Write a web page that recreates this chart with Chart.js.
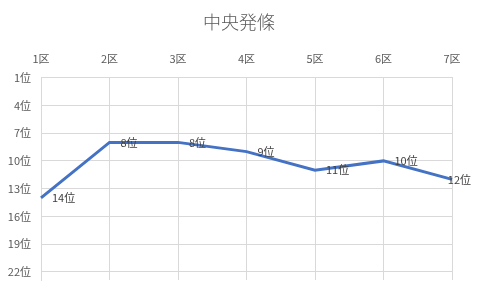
<!DOCTYPE html>
<html>
<head>
<meta charset="utf-8">
<script src="https://cdn.jsdelivr.net/npm/chart.js@4/dist/chart.umd.min.js"></script>
<style>
  html, body { margin: 0; padding: 0; background: #fff; }
  #wrap { width: 478px; height: 298px; position: relative; }
</style>
</head>
<body>
<div id="wrap"><canvas id="c"></canvas></div>
<script>
// chart data
const titleText = "中央発條";
const sections = ["1区", "2区", "3区", "4区", "5区", "6区", "7区"];
const ranks = [14, 8, 8, 9, 11, 10, 12];
const rankTicks = [1, 4, 7, 10, 13, 16, 19, 22];

const FONT = "'Noto Sans CJK JP', 'Noto Sans', sans-serif";

// labels to the right of each point, kept inside the canvas
const pointLabels = {
  id: "pointLabels",
  afterDatasetsDraw(chart){
    const ctx = chart.ctx;
    const meta = chart.getDatasetMeta(0);
    ctx.save();
    ctx.font = "11px " + FONT;
    ctx.fillStyle = "#404040";
    ctx.textBaseline = "middle";
    ctx.textAlign = "left";
    meta.data.forEach((pt, i)=>{
      const txt = ranks[i] + "位";
      const w = ctx.measureText(txt).width;
      let x = pt.x + 11;
      if(x + w > chart.width - 7) x = chart.width - 7 - w;
      ctx.fillText(txt, x, pt.y);
    });
    ctx.restore();
  }
};

new Chart(document.getElementById("c"), {
  type: "line",
  data: {
    labels: sections,
    datasets: [{
      data: ranks,
      borderColor: "#4472C4",
      borderWidth: 3,
      pointRadius: 0,
      tension: 0,
      fill: false
    }]
  },
  options: {
    responsive: true,
    maintainAspectRatio: false,
    animation: false,
    layout: { padding: { left: 0, right: 0, top: 0, bottom: 18 } },
    plugins: {
      legend: { display: false },
      tooltip: { enabled: false },
      title: {
        display: true,
        text: titleText,
        color: "#595959",
        font: { family: FONT, size: 18, weight: "300" },
        padding: { top: 11, bottom: 8 }
      }
    },
    scales: {
      x: {
        position: "top",
        offset: false,
        grid: { color: "#d9d9d9", drawTicks: false },
        border: { color: "#d9d9d9" },
        ticks: { color: "#595959", font: { family: FONT, size: 11 }, padding: 12, maxRotation: 0 },
        afterFit(s){ s.height = 79 - 42; }
      },
      y: {
        reverse: true,
        min: 1,
        max: 22.87,
        grid: { color: "#d9d9d9", drawTicks: false },
        border: { color: "#d9d9d9" },
        afterBuildTicks(s){ s.ticks = rankTicks.map(v=>({ value: v })); },
        ticks: {
          color: "#595959",
          font: { family: FONT, size: 11 },
          padding: 10,
          callback: (v)=> v + "位"
        },
        afterFit(s){ s.width = 41; }
      },
      // empty right-hand gutter so the title stays centred on the canvas
      gutter: {
        position: "right",
        display: true,
        grid: { display: false },
        border: { display: false },
        ticks: { display: false },
        afterFit(s){ s.width = 26; }
      }
    }
  },
  plugins: [pointLabels]
});
</script>
</body>
</html>
